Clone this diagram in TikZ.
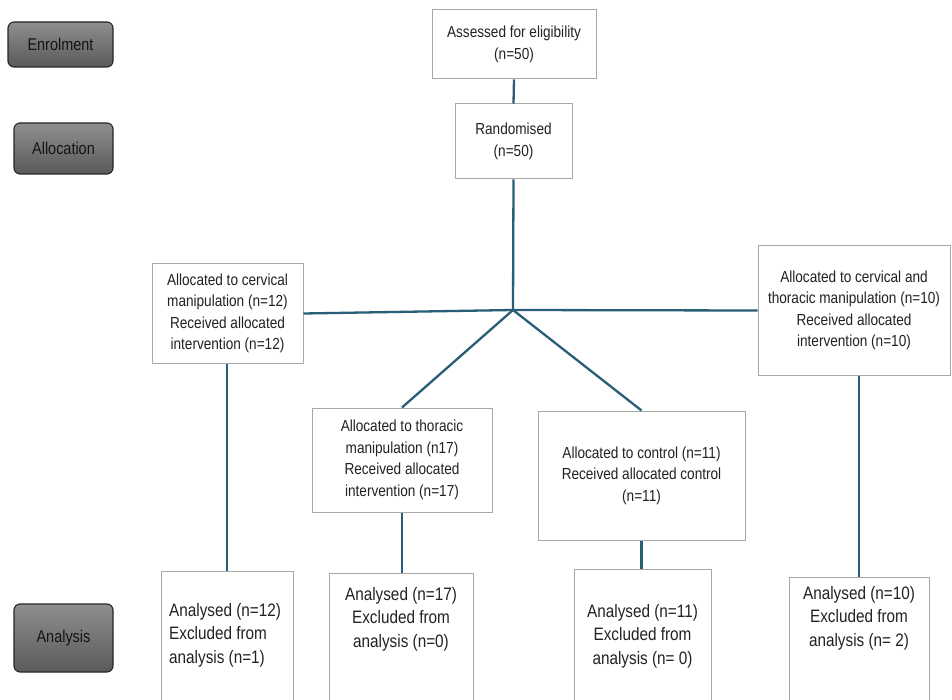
\documentclass[tikz,border=0pt]{standalone}
\usepackage{fontspec}
\setmainfont{Liberation Sans}[FakeStretch=0.85]
\definecolor{linkblue}{HTML}{285E77}
\definecolor{boxgray}{HTML}{A8A8A8}
\definecolor{txtgray}{HTML}{222222}
\definecolor{stagetop}{HTML}{8E8E8E}
\definecolor{stagebot}{HTML}{5A5A5A}
\begin{document}
\begin{tikzpicture}[x=1pt,y=-1pt,
  box/.style={draw=boxgray, line width=1pt, fill=white, inner sep=0pt},
  stage/.style={draw=black!85, line width=1.1pt, rounded corners=6pt,
    top color=stagetop, bottom color=stagebot, text=black!92,
    font=\fontsize{17}{20}\selectfont, inner sep=0pt},
  link/.style={draw=linkblue, line width=2.3pt},
  txt/.style={font=\fontsize{16}{21.5}\selectfont, align=center, text=txtgray, inner sep=0pt},
  big/.style={font=\fontsize{18}{23.5}\selectfont, align=center, text=txtgray, inner sep=0pt}
]
\useasboundingbox (0,0) rectangle (952,700);
\fill[white] (0,0) rectangle (952,700);

% stage labels
\node[stage, minimum width=105pt, minimum height=45pt] (enrol) at (60.5,44.5) {Enrolment};
\node[stage, minimum width=99pt, minimum height=51pt] (alloc) at (63.5,148.5) {Allocation};
\node[stage, minimum width=99pt, minimum height=68pt] (anal) at (63.5,638) {Analysis};

% flow boxes
\node[box, txt, minimum width=164pt, minimum height=69pt] (assess) at (514,44.5)
  {Assessed for eligibility\\(n=50)};
\node[box, txt, minimum width=117pt, minimum height=75pt] (rand) at (513.5,141.5)
  {Randomised\\(n=50)};
\node[box, txt, minimum width=151pt, minimum height=99pt] (cerv) at (227.5,313.5)
  {Allocated to cervical\\manipulation (n=12)\\Received allocated\\intervention (n=12)};
\node[box, txt, minimum width=180pt, minimum height=104pt] (thor) at (402,460)
  {Allocated to thoracic\\manipulation (n17)\\Received allocated\\intervention (n=17)};
\node[box, txt, minimum width=207pt, minimum height=129pt] (ctrl) at (641.5,475.5)
  {Allocated to control (n=11)\\Received allocated control\\(n=11)};
\node[box, txt, minimum width=192pt, minimum height=129pt] (both) at (854,310.5)
  {Allocated to cervical and\\thoracic manipulation (n=10)\\Received allocated\\intervention (n=10)};

% analysis boxes (run off the bottom edge)
\node[box, minimum width=132pt, minimum height=139pt] (a12) at (227,640.5) {};
\node[box, minimum width=144pt, minimum height=137pt] (a17) at (401,641.5) {};
\node[box, minimum width=137pt, minimum height=141pt] (a11) at (642.5,639.5) {};
\node[box, minimum width=140pt, minimum height=133pt] (a10) at (859,643.5) {};

\node[big, align=left, anchor=west] (t12) at (169,635)
  {Analysed (n=12)\\Excluded from\\analysis (n=1)};
\node[big] (t17) at (401,619) {Analysed (n=17)\\Excluded from\\analysis (n=0)};
\node[big] (t11) at (642.5,636) {Analysed (n=11)\\Excluded from\\analysis (n= 0)};
\node[big] (t10) at (859,618) {Analysed (n=10)\\Excluded from\\analysis (n= 2)};

% connectors
\coordinate (j) at (513,310);
\draw[link] (assess.south) -- (rand.north);
\draw[link] (rand.south) -- (j);
\draw[link] (j) -- (cerv.east);
\draw[link] (j) -- (both.west);
\draw[link] (j) -- (thor.north);
\draw[link] (j) -- (ctrl.north);
\draw[link] (a12.north |- cerv.south) -- (a12.north);
\draw[link] (thor.south) -- (thor.south |- a17.north);
\draw[link] (ctrl.south) -- (ctrl.south |- a11.north);
\draw[link] (a10.north |- both.south) -- (a10.north);
\end{tikzpicture}
\end{document}
